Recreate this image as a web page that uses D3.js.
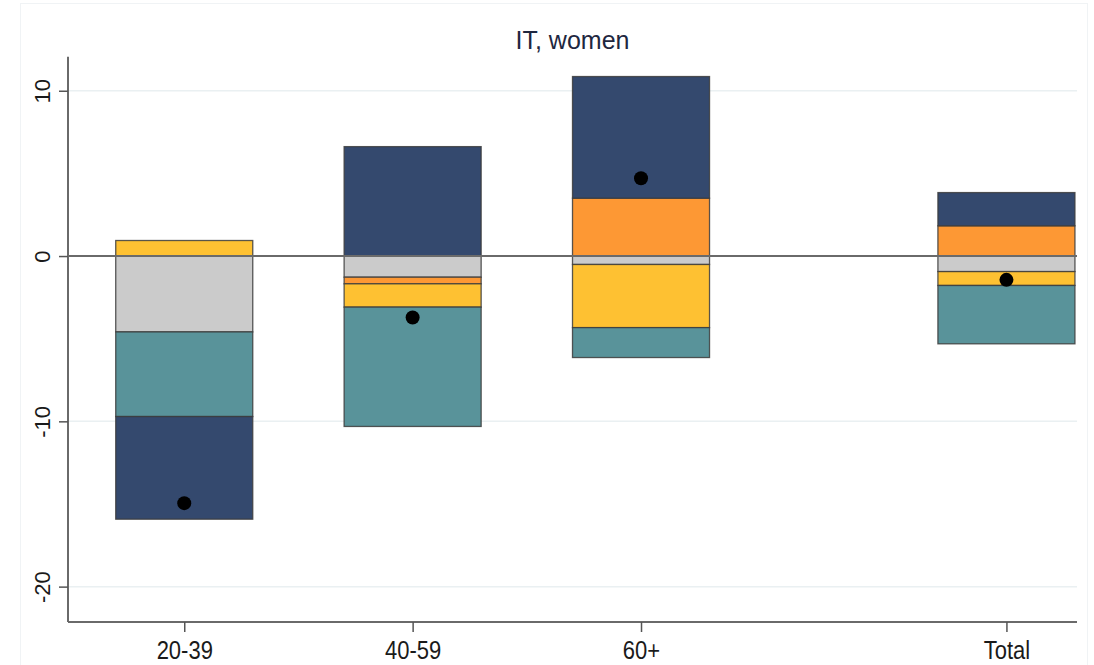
<!DOCTYPE html>
<html>
<head>
<meta charset="utf-8">
<script src="https://cdn.jsdelivr.net/npm/d3@7"></script>
<style>
  html, body { margin: 0; padding: 0; background: #ffffff; }
  svg { display: block; font-family: "Liberation Sans", Arial, sans-serif; }
</style>
</head>
<body>
<svg id="chart" width="1094" height="665"></svg>
<script>
// Age groups and their positions on the x axis (Total set apart)
const categories = ["20-39", "40-59", "60+", "Total"];
const positions  = [1, 2, 3, 4.6];

// Contributions per component (stack order from zero outward)
const compGray   = [-4.59, -1.28, -0.51, -0.94];
const compOrange = [ 0.00, -0.40,  3.50,  1.83];
const compYellow = [ 0.94, -1.41, -3.82, -0.84];
const compTeal   = [-5.12, -7.22, -1.81, -3.53];
const compNavy   = [-6.21,  6.62,  7.36,  2.01];

// Overall change (dots)
const totals = [-14.95, -3.72, 4.71, -1.44];

const yTicks = [10, 0, -10, -20];
const yTickLabels = ["10", "0", "-10", "-20"];
const title = "IT, women";

const keys = ["gray", "orange", "yellow", "teal", "navy"];
const colors = {
  gray:   "#cbcbcb",
  orange: "#fd9834",
  yellow: "#fec132",
  teal:   "#59939a",
  navy:   "#34496e"
};

const rows = categories.map((c, i) => ({
  cat: c, pos: positions[i],
  gray: compGray[i], orange: compOrange[i], yellow: compYellow[i],
  teal: compTeal[i], navy: compNavy[i], total: totals[i]
}));

const svg = d3.select("#chart");
const plotL = 68, plotR = 1077, plotT = 56.7, plotB = 622;

const x = d3.scaleLinear().domain([0.491, 4.909]).range([plotL, plotR]);
const y = d3.scaleLinear().domain([12.06, -22.14]).range([plotT, plotB]);
const barW = x(1.6) - x(1);

// outer frame
svg.append("rect")
  .attr("x", 20.5).attr("y", 3.5).attr("width", 1067).attr("height", 700)
  .attr("fill", "#ffffff").attr("stroke", "#f0f3f5").attr("stroke-width", 1);

// gridlines
svg.append("g").selectAll("line")
  .data(yTicks.filter(t => t !== 0))
  .join("line")
  .attr("x1", plotL).attr("x2", plotR)
  .attr("y1", d => y(d)).attr("y2", d => y(d))
  .attr("stroke", "#eaf0f2").attr("stroke-width", 1.5);

// stacked segments
const series = d3.stack().keys(keys).offset(d3.stackOffsetDiverging)(rows);
svg.append("g").selectAll("g")
  .data(series)
  .join("g")
  .attr("fill", s => colors[s.key])
  .selectAll("rect")
  .data(s => s.filter(d => d[1] - d[0] !== 0))
  .join("rect")
  .attr("x", d => x(d.data.pos) - barW / 2)
  .attr("width", barW)
  .attr("y", d => y(d[1]))
  .attr("height", d => y(d[0]) - y(d[1]))
  .attr("stroke", "#3c3c3c").attr("stroke-opacity", 0.85).attr("stroke-width", 1.3);

// zero line
svg.append("line")
  .attr("x1", plotL).attr("x2", plotR)
  .attr("y1", y(0)).attr("y2", y(0))
  .attr("stroke", "#6a6a6a").attr("stroke-width", 2);

// dots
svg.append("g").selectAll("circle")
  .data(rows)
  .join("circle")
  .attr("cx", d => x(d.pos)).attr("cy", d => y(d.total))
  .attr("r", 7).attr("fill", "#000");

// y axis
const yAxis = svg.append("g").attr("transform", `translate(${plotL},0)`)
  .call(d3.axisLeft(y).tickValues(yTicks).tickSize(9)
    .tickFormat((d, i) => yTickLabels[i]));
yAxis.select(".domain").attr("d", `M0,${plotT}V${plotB}`).attr("stroke", "#6a6a6a").attr("stroke-width", 2);
yAxis.selectAll(".tick line").attr("stroke", "#555").attr("stroke-width", 1.5);
yAxis.selectAll(".tick text")
  .attr("x", null).attr("dy", null)
  .attr("transform", "translate(-18,0) rotate(-90)")
  .attr("text-anchor", "middle")
  .attr("fill", "#1a1a1a")
  .style("font-size", "22px");

// x axis
const xAxis = svg.append("g").attr("transform", `translate(0,${plotB})`)
  .call(d3.axisBottom(x).tickValues(positions).tickSize(10)
    .tickFormat((d, i) => categories[i]));
xAxis.select(".domain").attr("d", `M${plotL},0H${plotR}`).attr("stroke", "#6a6a6a").attr("stroke-width", 2);
xAxis.selectAll(".tick line").attr("stroke", "#555").attr("stroke-width", 1.5);
xAxis.selectAll(".tick text")
  .attr("y", null).attr("dy", null)
  .attr("transform", "translate(0,37) scale(1,1.15)")
  .attr("fill", "#1a1a1a")
  .style("font-size", "22px");

// title
svg.append("text")
  .attr("x", (plotL + plotR) / 2).attr("y", 49)
  .attr("text-anchor", "middle")
  .attr("fill", "#1e2740")
  .style("font-size", "25px")
  .text(title);
</script>
</body>
</html>
